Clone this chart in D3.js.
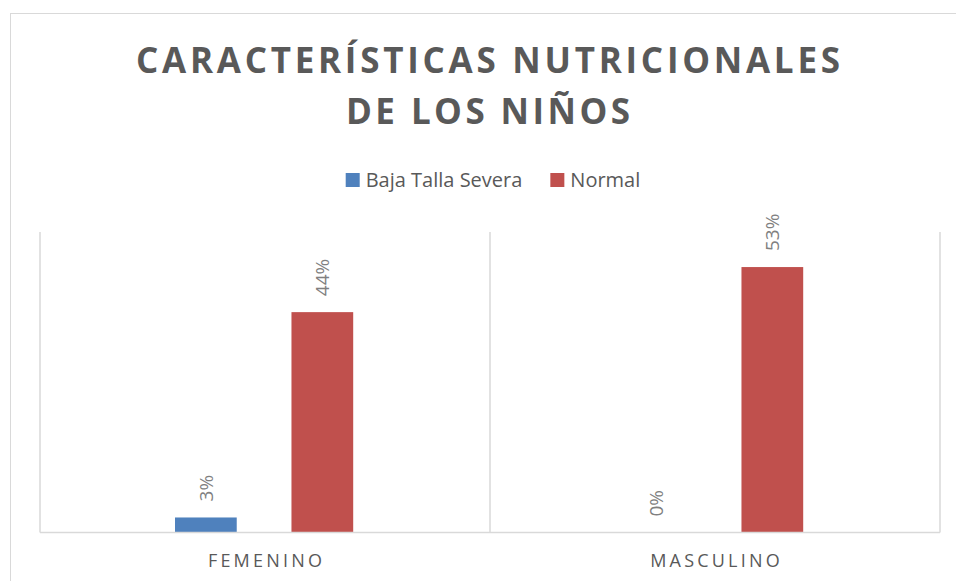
<!DOCTYPE html>
<html>
<head>
<meta charset="utf-8">
<script src="https://cdn.jsdelivr.net/npm/d3@7"></script>
<style>
  body { margin: 0; background: #fff; }
  text { font-family: "Open Sans", sans-serif; }
</style>
</head>
<body>
<div id="chart"></div>
<script>
var categories = ["FEMENINO", "MASCULINO"],
    series = ["Baja Talla Severa", "Normal"],
    bajaTalla = [3, 0],
    normal = [44, 53],
    colors = ["#4f81bd", "#c0504d"],
    titleLines = ["CARACTERÍSTICAS NUTRICIONALES", "DE LOS NIÑOS"];

var width = 956, height = 581;
var plot = {top: 232, bottom: 532.5, left: 40, right: 940};

var svg = d3.select("#chart").append("svg")
    .attr("width", width)
    .attr("height", height);

// chart border
svg.append("rect")
    .attr("x", 10.5).attr("y", 13.5)
    .attr("width", 960).attr("height", 600)
    .attr("fill", "none")
    .attr("stroke", "#d9d9d9");

// title
var titleW = [704, 284];
svg.selectAll(".title")
    .data(titleLines)
  .enter().append("text")
    .attr("class", "title")
    .attr("x", 488)
    .attr("y", function(d, i) { return 73 + i * 51; })
    .attr("text-anchor", "middle")
    .attr("textLength", function(d, i) { return titleW[i]; })
    .attr("lengthAdjust", "spacing")
    .style("font-size", "35px")
    .style("font-weight", "bold")
    .attr("fill", "#595959")
    .text(function(d) { return d; });

// legend
var legend = svg.append("g");
var lx = 0;
series.forEach(function(s, i) {
  var g = legend.append("g").attr("transform", "translate(" + lx + ",0)");
  g.append("rect")
      .attr("x", 0).attr("y", 173)
      .attr("width", 14).attr("height", 14)
      .attr("fill", colors[i]);
  var t = g.append("text")
      .attr("x", 20).attr("y", 187)
      .style("font-size", "20px")
      .attr("fill", "#595959")
      .text(s);
  lx += 20 + t.node().getComputedTextLength() + 28;
});
var legW = lx - 28;
legend.attr("transform", "translate(" + (493 - legW / 2) + ",0)");

var x0 = d3.scaleBand()
    .domain(categories)
    .range([plot.left, plot.right]);

var x1 = d3.scaleBand()
    .domain(series)
    .range([x0.bandwidth() * 0.3, x0.bandwidth() * 0.696])
    .paddingInner(0.47);

var y = d3.scaleLinear()
    .domain([0, 60])
    .range([plot.bottom, plot.top]);

// vertical gridlines at category edges
var edges = categories.map(function(c) { return x0(c); }).concat([plot.right]);
svg.selectAll(".grid")
    .data(edges)
  .enter().append("line")
    .attr("x1", function(d) { return d; })
    .attr("x2", function(d) { return d; })
    .attr("y1", plot.top)
    .attr("y2", plot.bottom)
    .attr("stroke", "#d9d9d9")
    .attr("stroke-width", 1.5);

var rows = [];
categories.forEach(function(c, i) {
  rows.push({cat: c, s: series[0], v: bajaTalla[i], col: colors[0]});
  rows.push({cat: c, s: series[1], v: normal[i], col: colors[1]});
});

svg.selectAll(".bar")
    .data(rows)
  .enter().append("rect")
    .attr("class", "bar")
    .attr("x", function(d) { return x0(d.cat) + x1(d.s); })
    .attr("y", function(d) { return y(d.v); })
    .attr("width", x1.bandwidth())
    .attr("height", function(d) { return y(0) - y(d.v); })
    .attr("fill", function(d) { return d.col; });

// baseline
svg.append("line")
    .attr("x1", plot.left).attr("x2", plot.right)
    .attr("y1", y(0)).attr("y2", y(0))
    .attr("stroke", "#d9d9d9")
    .attr("stroke-width", 1.5);

// data labels, rotated
svg.selectAll(".lbl")
    .data(rows)
  .enter().append("text")
    .attr("class", "lbl")
    .attr("transform", function(d) {
      return "translate(" + (x0(d.cat) + x1(d.s) + x1.bandwidth() / 2) + "," + (y(d.v) - 16) + ") rotate(-90)";
    })
    .attr("dy", "0.35em")
    .style("font-size", "19px")
    .attr("fill", "#808080")
    .text(function(d) { return d.v + "%"; });

// category labels
svg.selectAll(".cat")
    .data(categories)
  .enter().append("text")
    .attr("class", "cat")
    .attr("x", function(d) { return x0(d) + x0.bandwidth() / 2 + 1.5; })
    .attr("y", 567)
    .attr("text-anchor", "middle")
    .style("font-size", "18px")
    .style("letter-spacing", "3.2px")
    .attr("fill", "#595959")
    .text(function(d) { return d; });
</script>
</body>
</html>
